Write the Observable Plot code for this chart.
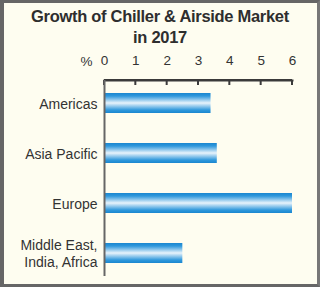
<!DOCTYPE html>
<html>
<head>
<meta charset="utf-8">
<script src="https://cdn.jsdelivr.net/npm/d3@7"></script>
<script src="https://cdn.jsdelivr.net/npm/@observablehq/plot@0.6"></script>
<style>
  html, body { margin: 0; padding: 0; background: #fefdf0; }
  #wrap { position: relative; width: 320px; height: 287px; background: #fefdf0; overflow: hidden; font-family: "Liberation Sans", Arial, sans-serif; }
  #frame { position: absolute; left: 0; top: 0; width: 320px; height: 287px; box-sizing: border-box;
    border-left: 4px solid #666; border-top: 3px solid #666; border-right: 3px solid #777; border-bottom: 3px solid #666; pointer-events: none; }
  #title { height: 46px; box-sizing: border-box; padding-top: 6px; text-align: center; font-weight: bold; font-size: 16.5px; line-height: 21px; color: #2e2e2e; letter-spacing: -0.3px; }
  #chart svg { display: block; }
</style>
</head>
<body>
<div id="wrap">
  <div id="title">Growth of Chiller &amp; Airside Market<br>in 2017</div>
  <div id="chart"></div>
  <div id="frame"></div>
</div>
<script>
const regions = ["Americas", "Asia Pacific", "Europe", "Middle East,\nIndia, Africa"];
const growth = [3.4, 3.6, 6.0, 2.5];
const xTicks = [0, 1, 2, 3, 4, 5, 6];

const data = regions.map((r, i) => ({region: r, value: growth[i]}));

const gradient = () => {
  const defs = d3.create("svg:defs");
  const g = defs.append("linearGradient").attr("id", "barGrad").attr("x1", 0).attr("y1", 0).attr("x2", 0).attr("y2", 1);
  [[0, "#1a86cf"], [0.15, "#2f98dc"], [0.5, "#e8f3fb"], [0.85, "#2f98dc"], [1, "#1a86cf"]]
    .forEach(([o, c]) => g.append("stop").attr("offset", o).attr("stop-color", c));
  return defs.node();
};

// top axis line with small downward tick marks, placed with the x scale
const topAxisLine = (index, scales, values, dims) => {
  const g = d3.create("svg:g").attr("stroke", "#3a3a3a").attr("stroke-width", 2).attr("fill", "none");
  const x0 = scales.x(xTicks[0]), x1 = scales.x(xTicks[xTicks.length - 1]);
  const y0 = dims.marginTop;
  g.append("line").attr("x1", x0).attr("x2", x1).attr("y1", y0).attr("y2", y0);
  for (const t of xTicks) {
    const px = scales.x(t);
    g.append("line").attr("x1", px).attr("x2", px).attr("y1", y0).attr("y2", y0 + 5);
  }
  return g.node();
};

const chart = Plot.plot({
  width: 320,
  height: 241,
  marginTop: 34,
  marginBottom: 11,
  marginLeft: 104,
  marginRight: 28,
  style: {background: "transparent", fontFamily: "Liberation Sans, Arial, sans-serif", color: "#333"},
  x: {domain: [0, 6]},
  y: {domain: regions, paddingInner: 0.6, paddingOuter: 0.234},
  marks: [
    gradient,
    Plot.barX(data, {x: "value", y: "region", fill: "url(#barGrad)"}),
    Plot.axisX({anchor: "top", ticks: xTicks, tickSize: 0, tickPadding: 16, tickFormat: "d", label: null, fontSize: 13.5}),
    Plot.axisY({anchor: "left", tickSize: 0, tickPadding: 7, label: null, fontSize: 14, lineHeight: 1.2}),
    Plot.text(["%"], {frameAnchor: "top-left", dx: -12, dy: -24, textAnchor: "end", fontSize: 13.5, fill: "#333"}),
    Plot.frame({anchor: "top", stroke: "#3a3a3a", strokeWidth: 2}),
    topAxisLine,
    Plot.ruleX([0], {stroke: "#666", strokeWidth: 2})
  ]
});
document.getElementById("chart").appendChild(chart);
</script>
</body>
</html>
